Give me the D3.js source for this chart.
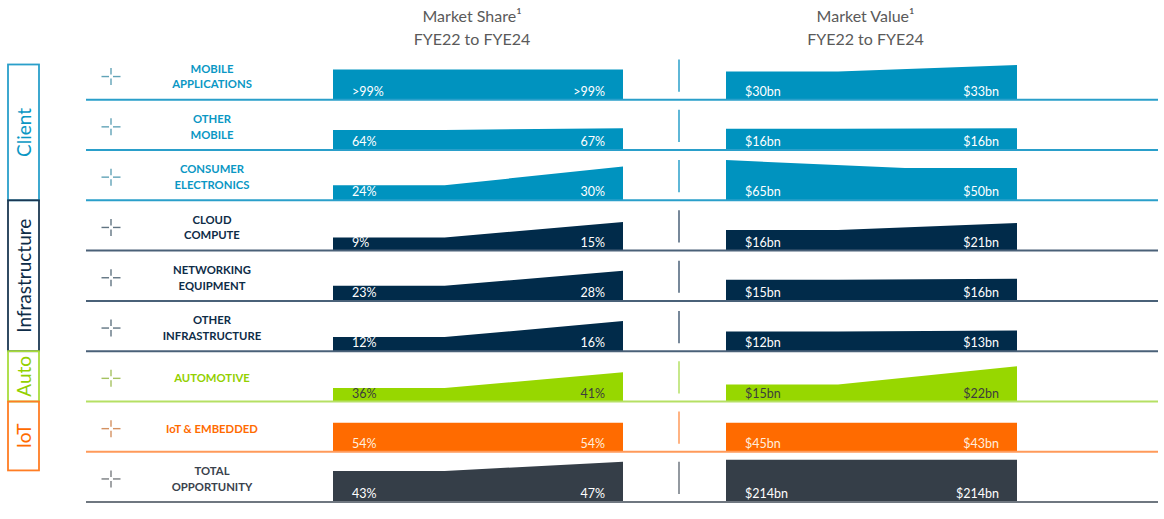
<!DOCTYPE html>
<html>
<head>
<meta charset="utf-8">
<script src="https://cdn.jsdelivr.net/npm/d3@7"></script>
<style>
  body { margin: 0; background: #fff; }
  svg { display: block; font-family: Lato, "Open Sans", sans-serif; }
</style>
</head>
<body>
<svg id="chart"></svg>
<script>
// ---- data ----
const categories = ["MOBILE|APPLICATIONS", "OTHER|MOBILE", "CONSUMER|ELECTRONICS", "CLOUD|COMPUTE",
    "NETWORKING|EQUIPMENT", "OTHER|INFRASTRUCTURE", "AUTOMOTIVE", "IoT & EMBEDDED", "TOTAL|OPPORTUNITY"];
const segments = ["Client", "Client", "Client", "Infrastructure", "Infrastructure", "Infrastructure",
    "Auto", "IoT", "Total"];
const segmentBoxes = ["Client", "Infrastructure", "Auto", "IoT"];

const shareFYE22 = [99, 64, 24, 9, 23, 12, 36, 54, 43];
const shareFYE24 = [99, 67, 30, 15, 28, 16, 41, 54, 47];
const valueFYE22 = [30, 16, 65, 16, 15, 12, 15, 45, 214];
const valueFYE24 = [33, 16, 50, 21, 16, 13, 22, 43, 214];

// shape heights as drawn in the picture (index, 100 = one row)
const shareIndex22 = [60, 40, 30, 26, 30, 28, 27, 58, 62];
const shareIndex24 = [60, 43, 67, 57, 60, 60, 58, 58, 80];
const valueIndex22 = [56, 42, 80, 41, 42, 39, 34, 58, 84];
const valueIndex24 = [69, 43, 64, 55, 44, 41, 70, 58, 84];

const panelTitles = ["Market Share\u00b9", "Market Value\u00b9"];
const periodLabel = "FYE22 to FYE24";

const palette = {
    Client:         { fill: "#0093bf", line: "#2a9fca", text: "#0a97c4", inner: "#ffffff", box: "#2a9fca" },
    Infrastructure: { fill: "#012b4a", line: "#4a6178", text: "#0e2c47", inner: "#ffffff", box: "#1b3852" },
    Auto:           { fill: "#97d700", line: "#b5e064", text: "#93d000", inner: "#3d3d3d", box: "#a8dc3c" },
    IoT:            { fill: "#ff6b00", line: "#ff9a5a", text: "#ff6b00", inner: "#ffeede", box: "#ff7d24" },
    Total:          { fill: "#353e48", line: "#6f7780", text: "#3a424c", inner: "#ffffff", box: "#6f7780" }
};

const W = 1164, H = 519;
const svg = d3.select('#chart').attr('width', W).attr('height', H);

const rows = categories.map((c, i) => ({
    key: c, lines: c.split('|'), seg: segments[i], i
}));

const yRow = d3.scaleBand().domain(categories).range([49.4, 502.1]);
const step = yRow.step();
const bottom = i => yRow(categories[i]) + yRow.bandwidth();
const hScale = d3.scaleLinear().domain([0, 100]).range([0, step]);

const kink = 0.385;
const panels = [
    { title: panelTitles[0], from: shareFYE22, to: shareFYE24, idxFrom: shareIndex22, idxTo: shareIndex24,
      fmt: d => d >= 99 ? '>99%' : d + '%', range: [333, 623] },
    { title: panelTitles[1], from: valueFYE22, to: valueFYE24, idxFrom: valueIndex22, idxTo: valueIndex24,
      fmt: d => '$' + d + 'bn', range: [726, 1017] }
];

// Panel titles
panels.forEach(p => {
    const cx = (p.range[0] + p.range[1]) / 2 - 6;
    const t = svg.append('text')
        .attr('x', cx)
        .attr('text-anchor', 'middle')
        .attr('font-size', '16px')
        .attr('fill', '#5a5a5a');
    t.append('tspan').attr('x', cx).attr('y', 22).text(p.title);
    t.append('tspan').attr('x', cx).attr('y', 44.5).text(periodLabel);
});

// Area shapes
panels.forEach(p => {
    const x = d3.scaleLinear().domain([0, 1]).range(p.range);
    rows.forEach(r => {
        const b = bottom(r.i);
        const v0 = p.idxFrom[r.i], v1 = p.idxTo[r.i];
        // rising shapes stay flat first, falling shapes drop first and then level off
        const pts = v1 >= v0
            ? [{ t: 0, v: v0 }, { t: kink, v: v0 }, { t: 1, v: v1 }]
            : [{ t: 0, v: v0 }, { t: 1 - kink, v: v1 }, { t: 1, v: v1 }];
        const area = d3.area()
            .x(d => x(d.t))
            .y0(b)
            .y1(d => b - hScale(d.v));
        svg.append('path')
            .attr('d', area(pts))
            .attr('fill', palette[r.seg].fill);

        svg.append('text')
            .attr('x', x(0) + 19)
            .attr('y', b - 4)
            .attr('font-size', '12.5px')
            .attr('fill', palette[r.seg].inner)
            .text(p.fmt(p.from[r.i]));
        svg.append('text')
            .attr('x', x(1) - 18)
            .attr('y', b - 4)
            .attr('text-anchor', 'end')
            .attr('font-size', '12.5px')
            .attr('fill', palette[r.seg].inner)
            .text(p.fmt(p.to[r.i]));
    });
});

// Row separators, dividers, crosshairs, labels
rows.forEach(r => {
    const b = bottom(r.i);
    const c = palette[r.seg];
    const cy = yRow(r.key) + yRow.bandwidth() / 2 + 2;

    svg.append('line')
        .attr('x1', 86).attr('x2', 1158)
        .attr('y1', b).attr('y2', b)
        .attr('stroke', c.line)
        .attr('stroke-width', 2);

    svg.append('line')
        .attr('x1', 679).attr('x2', 679)
        .attr('y1', b - 0.8 * step).attr('y2', b - 0.16 * step)
        .attr('stroke', c.line)
        .attr('stroke-width', 1.5);

    // crosshair icon
    const crossColor = d3.interpolateRgb(c.fill, '#b0b0b0')(0.55);
    const cx = 111;
    const arms = [[-9.5, 0, -2, 0], [2, 0, 9.5, 0], [0, -8.5, 0, -2], [0, 2, 0, 8.5]];
    svg.append('g')
        .selectAll('line')
        .data(arms)
        .enter()
        .append('line')
        .attr('x1', d => cx + d[0]).attr('y1', d => cy + d[1])
        .attr('x2', d => cx + d[2]).attr('y2', d => cy + d[3])
        .attr('stroke', crossColor)
        .attr('stroke-width', 1.4);

    // label
    const n = r.lines.length;
    svg.append('g')
        .selectAll('text')
        .data(r.lines)
        .enter()
        .append('text')
        .attr('x', 212)
        .attr('y', (d, k) => cy + (k - (n - 1) / 2) * 15.5)
        .attr('dy', '0.36em')
        .attr('text-anchor', 'middle')
        .attr('font-size', '11.3px')
        .attr('font-weight', '700')
        .attr('fill', c.text)
        .text(d => d);
});

// Segment boxes on the left
segmentBoxes.forEach((s, k) => {
    const idx = segments.map((g, i) => g === s ? i : -1).filter(i => i >= 0);
    const first = idx[0], last = idx[idx.length - 1];
    const top = first === 0 ? bottom(0) - 0.7 * step : bottom(first - 1);
    const bot = k === segmentBoxes.length - 1 ? bottom(last) + 0.37 * step : bottom(last);
    const c = palette[s];

    svg.append('rect')
        .attr('x', 8).attr('y', top)
        .attr('width', 31).attr('height', bot - top)
        .attr('fill', 'none')
        .attr('stroke', c.box)
        .attr('stroke-width', 1.8);

    svg.append('text')
        .attr('transform', `translate(24.5,${(top + bot) / 2}) rotate(-90)`)
        .attr('text-anchor', 'middle')
        .attr('dy', '0.35em')
        .attr('font-size', '19px')
        .attr('fill', c.text)
        .text(s);
});
</script>
</body>
</html>
